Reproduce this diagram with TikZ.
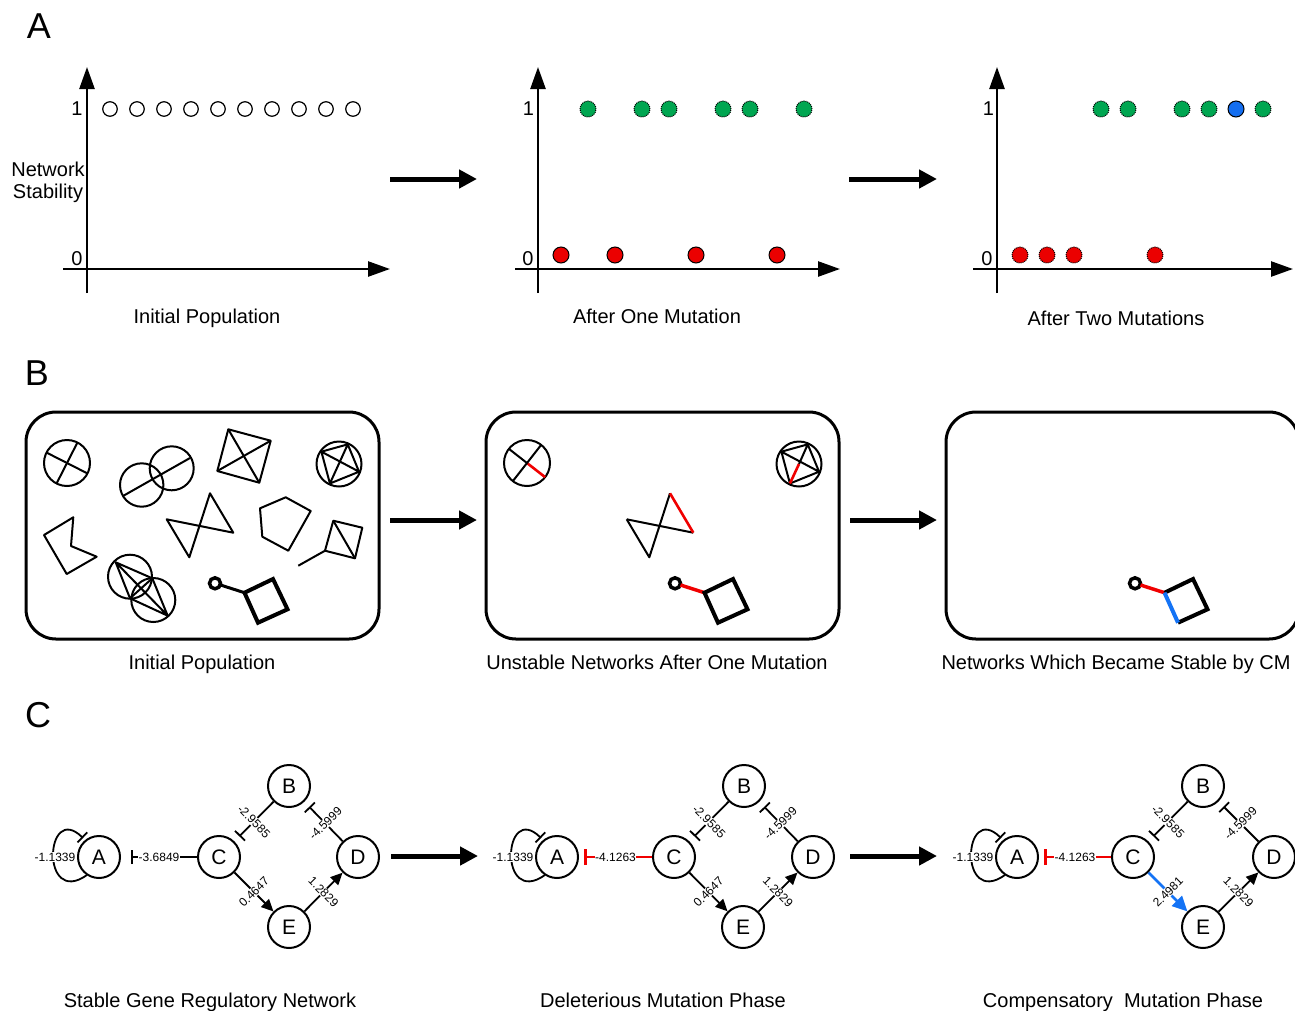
\documentclass[tikz,border=0pt]{standalone}
\usepackage{fontspec}
\setmainfont{Liberation Sans}
\usetikzlibrary{arrows.meta,calc,backgrounds}
\definecolor{gfill}{RGB}{0,166,81}
\definecolor{rfill}{RGB}{235,0,0}
\definecolor{bfill}{RGB}{20,110,240}
\definecolor{redline}{RGB}{240,0,0}
\definecolor{blueline}{RGB}{20,115,245}
\begin{document}
\begin{tikzpicture}[x=1pt,y=-1pt,font=\fontsize{20}{22}\selectfont]
\tikzset{
 axis/.style={line width=2.5pt,-{Triangle[length=22pt,width=15pt]}},
 bigarr/.style={line width=5pt,-{Triangle[length=18pt,width=18pt]}},
 hdot/.style={circle,draw,line width=1.2pt,minimum size=14.5pt,inner sep=0pt},
 fdot/.style={circle,draw=black,line width=1pt,minimum size=16pt,inner sep=0pt},
 gdot/.style={fdot,fill=gfill,densely dotted},
 rdot/.style={fdot,fill=rfill},
 rdotd/.style={fdot,fill=rfill,densely dotted},
 bdot/.style={fdot,fill=bfill},
 plet/.style={font=\fontsize{36}{40}\selectfont,anchor=base},
 lbl/.style={anchor=base},
 panelbox/.style={line width=3pt,rounded corners=30pt},
 shp/.style={line width=2pt,line join=round},
 lolli/.style={line width=4pt,line join=miter},
 gnode/.style={circle,draw,line width=2pt,minimum size=42pt,inner sep=0pt,fill=white,font=\fontsize{21}{24}\selectfont},
 elab/.style={font=\fontsize{12}{13}\selectfont,fill=white,inner sep=0.6pt},
 inh/.style={line width=1.8pt,-{Bar[width=14pt]},shorten >=7pt},
 selfinh/.style={line width=1.8pt,-{Bar[width=14pt]}},
 act/.style={line width=1.8pt,-{Triangle[length=12pt,width=11pt]}},
 redinh/.style={line width=2.5pt,draw=redline,-{Bar[width=16pt]},shorten >=5pt},
 blueact/.style={line width=2.8pt,draw=blueline,-{Triangle[length=15pt,width=14pt]}},
}
\useasboundingbox (0,0) rectangle (1295,1010);
\clip (0,0) rectangle (1295,1010);

% ---------------- Panel letters
\node[plet] (pA) at (39,38) {A};
\node[plet] (pB) at (37,385) {B};
\node[plet] (pC) at (38,727) {C};

% ---------------- Panel A
% chart 1
\draw[axis] (63,269) -- (390,269);
\draw[axis] (87,293) -- (87,67);
\node[lbl] (one1) at (77,115) {1};
\node[lbl] (zero1) at (77,265) {0};
\node[align=center] (ns) at (48,182) {Network\\Stability};
\foreach \i in {0,...,9} \node[hdot] (h\i) at (110+27*\i,109) {};
\node[lbl] (t1) at (207,323) {Initial Population};

% chart 2
\draw[axis] (515,269) -- (840,269);
\draw[axis] (538,293) -- (538,67);
\node[lbl] (one2) at (528.5,115) {1};
\node[lbl] (zero2) at (528,265) {0};
\foreach \i in {1,3,4,6,7,9} \node[gdot] (g2\i) at (561+27*\i,109) {};
\foreach \i in {0,2,5,8} \node[rdot] (r2\i) at (561+27*\i,255) {};
\node[lbl] (t2) at (657,323) {After One Mutation};

% chart 3
\draw[axis] (973,269) -- (1293,269);
\draw[axis] (997,293) -- (997,67);
\node[lbl] (one3) at (988.5,115) {1};
\node[lbl] (zero3) at (987,265) {0};
\foreach \i in {3,4,6,7,9} \node[gdot] (g3\i) at (1020+27*\i,109) {};
\node[bdot] (b38) at (1020+27*8,109) {};
\foreach \i in {0,1,2,5} \node[rdotd] (r3\i) at (1020+27*\i,255) {};
\node[lbl] (t3) at (1116,325) {After Two Mutations};

\coordinate (aa1) at (390,179); \coordinate (aa2) at (477,179);
\coordinate (aa3) at (849,179); \coordinate (aa4) at (937,179);
\draw[bigarr] (aa1) -- (aa2);
\draw[bigarr] (aa3) -- (aa4);

% ---------------- Panel B
\draw[panelbox] (26,412) rectangle (379,639);
\draw[panelbox] (486,412) rectangle (839,639);
\draw[panelbox] (946,412) rectangle (1299,639);

% box 1 shapes
\draw[shp] (67,463) circle[radius=23];
\draw[shp] (67,463) ++(27:23) -- ++(207:46);
\draw[shp] (67,463) ++(117:23) -- ++(297:46);

\draw[shp] (141.7,485) circle[radius=21.7];
\draw[shp] (171.7,468.3) circle[radius=22];
\draw[shp] (123,496) -- (190,458);

\draw[shp] (228.3,429.3) -- (270.7,440.7) -- (259.3,482.7) -- (217.3,471) -- cycle;
\draw[shp] (228.3,429.3) -- (259.3,482.7);
\draw[shp] (270.7,440.7) -- (217.3,471);

\draw[shp] (339,464) circle[radius=22.5];
\draw[shp] (339,464) ++(215:21.5) coordinate (q1) (339,464) ++(294:21.5) coordinate (q2)
  (339,464) ++(21:21.5) coordinate (q3) (339,464) ++(115:21.5) coordinate (q4);
\draw[shp] (q1) -- (q2) -- (q3) -- (q4) -- cycle (q1) -- (q3) (q2) -- (q4);

\draw[shp] (44,535) -- (73.3,517.3) -- (71,546) -- (96.7,556.7) -- (66.7,574) -- cycle;

\draw[shp] (166.7,519.3) -- (233.3,532.7) -- (210,493.3) -- (189.3,557.3) -- cycle;

\draw[shp] (260,508.3) -- (285.7,497.3) -- (310.7,511) -- (288.3,550.7) -- (262.3,536.7) -- cycle;

\draw[shp] (333.3,520.7) -- (362.3,527.7) -- (355,558.3) -- (325,550.7) -- cycle;
\draw[shp] (333.3,520.7) -- (355,558.3);
\draw[shp] (325,550.7) -- (298.3,565.7);

\draw[shp] (130,576.7) circle[radius=22];
\draw[shp] (153.3,600) circle[radius=22];
\draw[shp] (115.7,562.3) -- (152.3,578.3) -- (167.7,615.7) -- (130,598.3) -- cycle
  (115.7,562.3) -- (167.7,615.7) (152.3,578.3) -- (130,598.3);

\draw[line width=3.5pt] (215,583.3) circle[radius=5.5];
\draw[line width=3pt] (220.5,585) -- (244.5,592.7);
\draw[lolli] (244.5,592.7) -- (273,579) -- (287.5,609.3) -- (258,622.7) -- cycle;

% box 2 shapes
\draw[shp] (527,463) circle[radius=23];
\draw[shp] (527,463) -- ++(218:23);
\draw[shp,draw=redline,line width=2.6pt] (527,463) -- ++(38:23);
\draw[shp] (527,463) ++(128:23) -- ++(308:46);

\draw[shp] (626.7,519.3) -- (693.3,532.7);
\draw[shp] (670,493.3) -- (649.3,557.3) -- (626.7,519.3);
\draw[shp,draw=redline,line width=2.6pt] (670,493.3) -- (693.3,532.7);

\draw[shp] (799,464) circle[radius=22.5];
\draw[shp] (799,464) ++(215:21.5) coordinate (s1) (799,464) ++(294:21.5) coordinate (s2)
  (799,464) ++(21:21.5) coordinate (s3) (799,464) ++(115:21.5) coordinate (s4);
\draw[shp] (s1) -- (s2) -- (s3) -- (s4) -- cycle (s1) -- (s3) (s2) -- (799,464);
\draw[shp,draw=redline,line width=2.6pt] (799,464) -- (s4);

\draw[line width=3.5pt] (675,583.3) circle[radius=5.5];
\draw[line width=3.5pt,draw=redline] (680.5,585) -- (704.5,592.7);
\draw[lolli] (704.5,592.7) -- (733,579) -- (747.5,609.3) -- (718,622.7) -- cycle;

% box 3 shapes
\draw[line width=3.5pt] (1135,583.3) circle[radius=5.5];
\draw[line width=3.5pt,draw=redline] (1140.5,585) -- (1164.5,592.7);
\draw[lolli] (1164.5,592.7) -- (1193,579) -- (1207.5,609.3) -- (1178,622.7);
\draw[lolli,draw=blueline,line cap=butt] (1164.5,592.7) -- (1178,622.7);

\node[lbl] (tb1) at (202,669) {Initial Population};
\node[lbl] (tb2) at (657,669) {Unstable Networks After One Mutation};
\node[lbl] (tb3) at (1116,669) {Networks Which Became Stable by CM};

\coordinate (ba1) at (390,520); \coordinate (ba2) at (477,520);
\coordinate (ba3) at (850,520); \coordinate (ba4) at (937,520);
\draw[bigarr] (ba1) -- (ba2);
\draw[bigarr] (ba3) -- (ba4);

% ---------------- Panel C
% graph 1
\node[gnode] (a1) at (99,857) {A};
\node[gnode] (c1) at (219,857) {C};
\node[gnode] (b1) at (289,786) {B};
\node[gnode] (d1) at (358,857) {D};
\node[gnode] (e1) at (289,927) {E};
\begin{pgfonlayer}{background}
\draw[selfinh] ($(a1)+(-12,18)$) .. controls ($(a1)+(-59,51)$) and ($(a1)+(-54,-56)$) .. ($(a1)+(-16,-19)$);
\end{pgfonlayer}
\node[elab] (l1) at ($(a1)+(-44,0)$) {-1.1339};
\draw[inh,shorten >=10pt] (c1) -- (a1) node[elab,midway] {-3.6849};
\draw[inh] (b1) -- (c1) node[elab,midway,rotate=-45] {-2.9585};
\draw[inh] (d1) -- (b1) node[elab,pos=0.45,rotate=45] {-4.5999};
\draw[act] (c1) -- (e1) node[elab,midway,rotate=45] {0.4647};
\draw[act] (e1) -- (d1) node[elab,midway,rotate=-45] {1.2829};
\node[lbl] (tc1) at (210,1007) {Stable Gene Regulatory Network};

% graph 2
\node[gnode] (a2) at (557,857) {A};
\node[gnode] (c2) at (674,857) {C};
\node[gnode] (b2) at (744,786) {B};
\node[gnode] (d2) at (813,857) {D};
\node[gnode] (e2) at (743,927) {E};
\begin{pgfonlayer}{background}
\draw[selfinh] ($(a2)+(-12,18)$) .. controls ($(a2)+(-59,51)$) and ($(a2)+(-54,-56)$) .. ($(a2)+(-16,-19)$);
\end{pgfonlayer}
\node[elab] (l2) at ($(a2)+(-44,0)$) {-1.1339};
\draw[redinh] (c2) -- (a2) node[elab,midway] {-4.1263};
\draw[inh] (b2) -- (c2) node[elab,midway,rotate=-45] {-2.9585};
\draw[inh] (d2) -- (b2) node[elab,pos=0.45,rotate=45] {-4.5999};
\draw[act] (c2) -- (e2) node[elab,midway,rotate=45] {0.4647};
\draw[act] (e2) -- (d2) node[elab,midway,rotate=-45] {1.2829};
\node[lbl] (tc2) at (663,1007) {Deleterious Mutation Phase};

% graph 3
\node[gnode] (a3) at (1017,857) {A};
\node[gnode] (c3) at (1133,857) {C};
\node[gnode] (b3) at (1203,786) {B};
\node[gnode] (d3) at (1274,857) {D};
\node[gnode] (e3) at (1203,927) {E};
\begin{pgfonlayer}{background}
\draw[selfinh] ($(a3)+(-12,18)$) .. controls ($(a3)+(-59,51)$) and ($(a3)+(-54,-56)$) .. ($(a3)+(-16,-19)$);
\end{pgfonlayer}
\node[elab] (l3) at ($(a3)+(-44,0)$) {-1.1339};
\draw[redinh] (c3) -- (a3) node[elab,midway] {-4.1263};
\draw[inh] (b3) -- (c3) node[elab,midway,rotate=-45] {-2.9585};
\draw[inh] (d3) -- (b3) node[elab,pos=0.45,rotate=45] {-4.5999};
\draw[blueact] (c3) -- (e3) node[elab,midway,rotate=45] {2.4981};
\draw[act] (e3) -- (d3) node[elab,midway,rotate=-45] {1.2829};
\node[lbl] (tc3) at (1123,1007) {Compensatory\ \ Mutation Phase};

\coordinate (ca1) at (391,856); \coordinate (ca2) at (478,856);
\coordinate (ca3) at (850,856); \coordinate (ca4) at (937,856);
\draw[bigarr] (ca1) -- (ca2);
\draw[bigarr] (ca3) -- (ca4);
\end{tikzpicture}
\end{document}
